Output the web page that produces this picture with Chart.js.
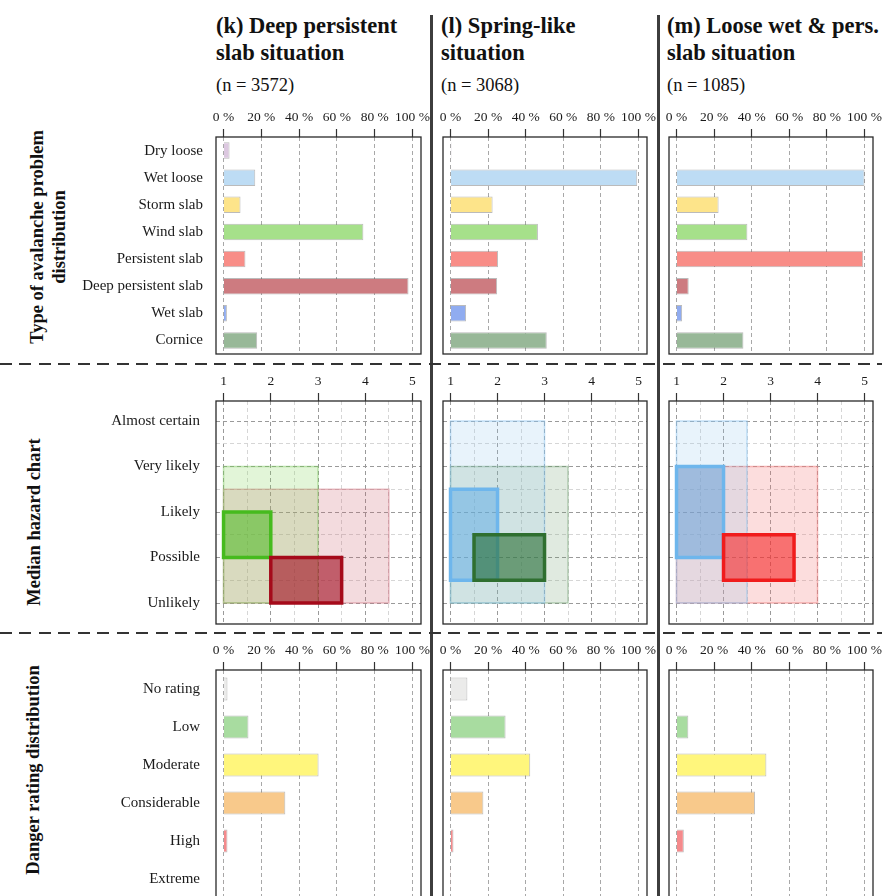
<!DOCTYPE html>
<html>
<head>
<meta charset="utf-8">
<script src="https://cdn.jsdelivr.net/npm/chart.js@4.4.1/dist/chart.umd.min.js"></script>
<style>
  html, body { margin: 0; padding: 0; background: #fff; }
  #page { position: relative; width: 882px; height: 896px; overflow: hidden; background: #fff;
          font-family: "Liberation Serif", "Times New Roman", Times, serif; color: #111; }
  #page canvas { position: absolute; }
  .title { position: absolute; font-weight: bold; font-size: 22.5px; line-height: 27px; white-space: nowrap; }
  .count { position: absolute; font-size: 18.5px; line-height: 20px; white-space: nowrap; }
  .rowlab { position: absolute; font-weight: bold; font-size: 18.5px; line-height: 21.5px; text-align: center;
            white-space: nowrap; transform: translate(-50%, -50%) rotate(-90deg); }
  .vsep { position: absolute; top: 15px; height: 881px; width: 3px; background: #3d3d3d; }
  .hsep { position: absolute; left: 0; width: 882px; height: 2px;
          background: repeating-linear-gradient(to right, #333 0 12px, transparent 12px 19.5px); }
</style>
</head>
<body>
<div id="page">
  <div class="title" style="left:216px;top:12px">(k) Deep persistent<br>slab situation</div>
  <div class="title" style="left:441px;top:12px">(l) Spring-like<br>situation</div>
  <div class="title" style="left:667px;top:12px">(m) Loose wet &amp; pers.<br>slab situation</div>
  <div class="count" style="left:216px;top:75px">(n = 3572)</div>
  <div class="count" style="left:441px;top:75px">(n = 3068)</div>
  <div class="count" style="left:667px;top:75px">(n = 1085)</div>
  <div class="rowlab" style="left:47.5px;top:236.5px">Type of avalanche problem<br>distribution</div>
  <div class="rowlab" style="left:35px;top:522px">Median hazard chart</div>
  <div class="rowlab" style="left:34px;top:770px">Danger rating distribution</div>
</div>
<script>
// ---- Avalanche problem types: share of days (%) in each situation ----
const problemTypes = ['Dry loose', 'Wet loose', 'Storm slab', 'Wind slab', 'Persistent slab',
                      'Deep persistent slab', 'Wet slab', 'Cornice'];
const problemColors = ['#dcc8e0', '#bddcf4', '#fde48a', '#a6e08a', '#f88d87', '#cd7b80', '#90acf0', '#98b898'];
const deepPersistentProblems = [3.2, 16.8, 9.0, 74.0, 11.6, 97.9, 1.8, 17.8];
const springLikeProblems     = [0.5, 99.3, 22.4, 46.5, 25.3, 24.8, 8.3, 51.2];
const looseWetPersProblems   = [0.3, 100, 22.4, 37.7, 99.3, 6.5, 3.0, 35.6];

// ---- Danger rating: share of days (%) ----
const dangerLevels = ['No rating', 'Low', 'Moderate', 'Considerable', 'High', 'Extreme'];
const dangerColors = ['#ebebea', '#a8dca0', '#fff67c', '#f8c98b', '#f58a8c', '#b83a3a'];
const deepPersistentDanger = [2.1, 13.2, 50.3, 32.7, 2.1, 0.2];
const springLikeDanger     = [9.0, 29.3, 42.4, 17.5, 1.6, 0.1];
const looseWetPersDanger   = [0.3, 6.3, 47.8, 41.8, 3.9, 0.1];

// ---- Axis ticks ----
const percentTicks = [0, 20, 40, 60, 80, 100];
const hazardGridSteps = [1, 1.5, 2, 2.5, 3, 3.5, 4, 4.5, 5];
const likelihoodLevels = ['Unlikely', 'Possible', 'Likely', 'Very likely', 'Almost certain'];

// ---- Hazard chart boxes: [sizeFrom, sizeTo, likelihoodFrom, likelihoodTo] ----
const deepPersistentWindRange  = [1, 3, 1, 4];
const deepPersistentWindMedian = [1, 2, 2, 3];
const deepPersistentDeepRange  = [1, 4.5, 1, 3.5];
const deepPersistentDeepMedian = [2, 3.5, 1, 2];
const springWetLooseRange      = [1, 3, 1, 5];
const springWetLooseMedian     = [1, 2, 1.5, 3.5];
const springCorniceRange       = [1, 3.5, 1, 4];
const springCorniceMedian      = [1.5, 3, 1.5, 2.5];
const looseWetLooseRange       = [1, 2.5, 1, 5];
const looseWetLooseMedian      = [1, 2, 2, 4];
const loosePersistentRange     = [1, 4, 1, 4];
const loosePersistentMedian    = [2, 3.5, 1.5, 2.5];

// ---- Layout of the panel grid (plot-area boxes) ----
const SERIF = '"Liberation Serif", "Times New Roman", Times, serif';
const TEXT = '#1a1a1a';
const columns = [
  { left: 216, right: 421 },
  { left: 443, right: 647 },
  { left: 669, right: 873 }
];
const rows = {
  problems: { top: 137, bottom: 354 },
  hazard:   { top: 401, bottom: 624 },
  danger:   { top: 670, bottom: 898 }
};

const page = document.getElementById('page');

// Closed frame around the plot area
const framePlugin = {
  id: 'frame',
  afterDatasetsDraw(chart) {
    const { ctx, chartArea: a } = chart;
    ctx.save();
    ctx.strokeStyle = '#2a2a2a';
    ctx.lineWidth = 1.3;
    ctx.setLineDash([]);
    ctx.strokeRect(a.left, a.top, a.right - a.left, a.bottom - a.top);
    ctx.restore();
  }
};

function mount(col, row, yw, cfg) {
  const xh = 40, padR = 14, padB = 4;
  const left = col.left - yw, top = row.top - xh;
  const w = col.right + padR - left, h = row.bottom + padB - top;
  const c = document.createElement('canvas');
  c.width = w; c.height = h;
  c.style.left = left + 'px'; c.style.top = top + 'px';
  c.style.width = w + 'px'; c.style.height = h + 'px';
  page.appendChild(c);
  cfg.options.layout = { padding: { left: 0, top: 0, right: padR, bottom: padB } };
  cfg.options.scales.x.afterFit = s => { s.height = xh; s.paddingLeft = 0; s.paddingRight = 0; };
  cfg.options.scales.y.afterFit = s => { s.width = yw; s.paddingTop = 0; s.paddingBottom = 0; };
  cfg.plugins = [framePlugin];
  return new Chart(c, cfg);
}

const baseOptions = () => ({
  responsive: false,
  animation: false,
  devicePixelRatio: 1,
  plugins: { legend: { display: false }, tooltip: { enabled: false } }
});

function percentAxis() {
  return {
    type: 'linear', position: 'top', min: -3.97, max: 104.5,
    afterBuildTicks: s => { s.ticks = percentTicks.map(v => ({ value: v })); },
    ticks: { callback: v => v + ' %', font: { family: SERIF, size: 13.5 }, color: TEXT,
             padding: 3, maxRotation: 0, autoSkip: false },
    grid: { color: '#a8a8a8', lineWidth: 1, tickLength: 8, tickColor: '#333', tickWidth: 1.2 },
    border: { display: false, dash: [4, 3] }
  };
}

function categoryAxis(showLabels, pad) {
  return {
    type: 'category',
    ticks: { display: showLabels, font: { family: SERIF, size: 15 }, color: TEXT, padding: pad, autoSkip: false },
    grid: { display: false, drawTicks: false },
    border: { display: false }
  };
}

function shareChart(col, row, labels, values, colors, showLabels, pad, barFrac) {
  const options = baseOptions();
  options.indexAxis = 'y';
  options.scales = { x: percentAxis(), y: categoryAxis(showLabels, pad) };
  return mount(col, row, showLabels ? 150 : 8, {
    type: 'bar',
    data: {
      labels: labels,
      datasets: [{
        data: values,
        backgroundColor: colors,
        borderColor: 'rgba(60,60,60,0.35)',
        borderWidth: 1,
        categoryPercentage: 1,
        barPercentage: barFrac
      }]
    },
    options: options
  });
}

// A box on the hazard chart, outlined as a closed line and filled by its own shape
function hazardBox(box, fill, stroke, width, order) {
  const [x1, x2, y1, y2] = box;
  return {
    data: [{ x: x1, y: y1 }, { x: x2, y: y1 }, { x: x2, y: y2 }, { x: x1, y: y2 }, { x: x1, y: y1 }],
    backgroundColor: fill,
    borderColor: stroke,
    borderWidth: width,
    fill: 'shape',
    pointRadius: 0,
    tension: 0,
    borderJoinStyle: 'miter',
    borderCapStyle: 'square',
    order: order
  };
}

const isWhole = c => c.tick && Math.abs(c.tick.value - Math.round(c.tick.value)) < 1e-9;

function hazardChart(col, showLabels, datasets) {
  const options = baseOptions();
  options.scales = {
    x: {
      type: 'linear', position: 'top', min: 0.84, max: 5.18,
      afterBuildTicks: s => { s.ticks = hazardGridSteps.map(v => ({ value: v })); },
      ticks: { callback: v => Number.isInteger(v) ? String(v) : '', font: { family: SERIF, size: 13.5 },
               color: TEXT, padding: 3, maxRotation: 0, autoSkip: false },
      grid: { color: c => isWhole(c) ? '#9a9a9a' : '#d6d6d6', tickLength: 8,
              tickColor: c => isWhole(c) ? '#333' : 'rgba(0,0,0,0)', tickWidth: 1.2 },
      border: { display: false, dash: [4, 3] }
    },
    y: {
      type: 'linear', min: 0.54, max: 5.44,
      afterBuildTicks: s => { s.ticks = hazardGridSteps.map(v => ({ value: v })); },
      ticks: { display: showLabels, callback: v => Number.isInteger(v) ? likelihoodLevels[v - 1] : '',
               font: { family: SERIF, size: 15 }, color: TEXT, padding: 16, autoSkip: false },
      grid: { color: c => isWhole(c) ? '#9a9a9a' : '#d6d6d6', drawTicks: false },
      border: { display: false, dash: [4, 3] }
    }
  };
  return mount(col, rows.hazard, showLabels ? 150 : 8, {
    type: 'line',
    data: { datasets: datasets },
    options: options
  });
}

// Row 1: avalanche problem distribution
shareChart(columns[0], rows.problems, problemTypes, deepPersistentProblems, problemColors, true, 13, 0.61);
shareChart(columns[1], rows.problems, problemTypes, springLikeProblems, problemColors, false, 13, 0.61);
shareChart(columns[2], rows.problems, problemTypes, looseWetPersProblems, problemColors, false, 13, 0.61);

// Row 2: median hazard chart (light = range, bold = median box)
hazardChart(columns[0], true, [
  hazardBox(deepPersistentDeepRange,  'rgba(200,90,105,0.22)', 'rgba(205,110,125,0.45)', 1.5, 4),
  hazardBox(deepPersistentWindRange,  'rgba(140,215,100,0.25)', 'rgba(120,200,90,0.45)', 1.5, 3),
  hazardBox(deepPersistentWindMedian, 'rgba(75,185,30,0.55)', '#46bb1e', 3.5, 2),
  hazardBox(deepPersistentDeepMedian, 'rgba(160,10,30,0.6)', '#a50a1a', 3.5, 1)
]);
hazardChart(columns[1], false, [
  hazardBox(springCorniceRange,   'rgba(100,150,100,0.2)', 'rgba(110,160,110,0.45)', 1.5, 4),
  hazardBox(springWetLooseRange,  'rgba(150,200,235,0.22)', 'rgba(140,195,240,0.5)', 1.5, 3),
  hazardBox(springWetLooseMedian, 'rgba(90,170,230,0.5)', '#6eb6ec', 3.5, 2),
  hazardBox(springCorniceMedian,  'rgba(40,110,50,0.6)', '#2f6f30', 3.5, 1)
]);
hazardChart(columns[2], false, [
  hazardBox(loosePersistentRange,  'rgba(245,120,120,0.25)', 'rgba(240,130,130,0.55)', 1.5, 4),
  hazardBox(looseWetLooseRange,    'rgba(150,200,235,0.22)', 'rgba(140,195,240,0.5)', 1.5, 3),
  hazardBox(looseWetLooseMedian,   'rgba(90,160,220,0.5)', '#6eb6ec', 3.5, 2),
  hazardBox(loosePersistentMedian, 'rgba(245,40,40,0.6)', '#f01c1c', 3.5, 1)
]);

// Row 3: danger rating distribution
shareChart(columns[0], rows.danger, dangerLevels, deepPersistentDanger, dangerColors, true, 16, 0.6);
shareChart(columns[1], rows.danger, dangerLevels, springLikeDanger, dangerColors, false, 16, 0.6);
shareChart(columns[2], rows.danger, dangerLevels, looseWetPersDanger, dangerColors, false, 16, 0.6);

// Panel separators drawn above the charts
[[430], [657]].forEach(([x]) => {
  const d = document.createElement('div');
  d.className = 'vsep'; d.style.left = x + 'px';
  page.appendChild(d);
});
[363, 632].forEach(y => {
  const d = document.createElement('div');
  d.className = 'hsep'; d.style.top = y + 'px';
  page.appendChild(d);
});
</script>
</body>
</html>
